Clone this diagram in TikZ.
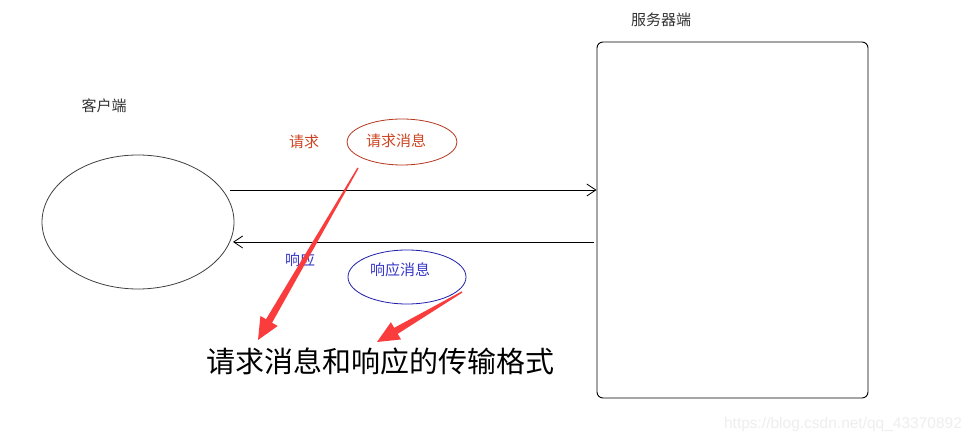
\documentclass[tikz,border=0pt]{standalone}
\usepackage{fontspec}
\setmainfont{Noto Sans CJK SC}
\newfontfamily\wmfont{Liberation Sans}
\usetikzlibrary{calc,arrows.meta}
\definecolor{reqtext}{RGB}{205,70,35}
\definecolor{reqline}{RGB}{180,55,30}
\definecolor{resptext}{RGB}{55,55,200}
\definecolor{respline}{RGB}{30,30,170}
\definecolor{arrowred}{RGB}{250,60,60}
\definecolor{wmgray}{RGB}{238,238,238}
\newcommand\bigredarrow[3]{%
  \coordinate (#1h) at ($(#3)!22pt!(#2)$);
  \fill[arrowred] ($(#2)!0.7pt!90:(#3)$) -- ($(#1h)!3.5pt!90:(#3)$) -- ($(#1h)!10pt!90:(#3)$)
    -- (#3) -- ($(#1h)!10pt!-90:(#3)$) -- ($(#1h)!3.5pt!-90:(#3)$) -- ($(#2)!0.7pt!-90:(#3)$) -- cycle;
}
\begin{document}
\begin{tikzpicture}[x=1pt,y=-1pt,
  lbl/.style={font=\fontsize{15pt}{17pt}\selectfont, inner sep=0pt},
  flow/.style={draw=black, line width=0.8pt, -{Straight Barb[length=9pt,width=12pt,line width=0.8pt]}}
]
\useasboundingbox[fill=white] (0,0) rectangle (975,443);
% client
\draw[draw=black!75, line width=0.8pt] (138,222) ellipse [x radius=96, y radius=67];
\node[draw=none, minimum width=192pt, minimum height=134pt, inner sep=0pt] (client) at (138,222) {};
\node[lbl, text=black!80] (clientlbl) at (104,106) {客户端};
% server
\node[draw=black, line width=0.9pt, rounded corners=6pt, minimum width=271pt, minimum height=356pt, inner sep=0pt] (server) at (732.5,220) {};
\node[lbl, text=black!80] (serverlbl) at (661,20) {服务器端};
% flows
\coordinate (reqstart) at (230,190);
\draw[flow] (reqstart) -- (reqstart -| server.west);
\coordinate (respstart) at (594,242);
\draw[flow] (respstart) -- (233,242);
% labels
\node[lbl, text=reqtext] (reqlbl) at (304,142) {请求};
\node[lbl, text=resptext] (resplbl) at (300,260) {响应};
% message ovals
\draw[reqline, line width=0.8pt] (402,142) ellipse [x radius=55, y radius=23];
\node[inner sep=0pt, minimum width=110pt, minimum height=46pt] (reqmsg) at (402,142) {};
\node[lbl, text=reqtext] (reqmsgtxt) at (396,141) {请求消息};
\draw[respline, line width=0.8pt] (407,277) ellipse [x radius=59, y radius=27];
\node[inner sep=0pt, minimum width=118pt, minimum height=54pt] (respmsg) at (407,277) {};
\node[lbl, text=resptext] (respmsgtxt) at (400,270) {响应消息};
% title
\node[inner sep=0pt, font=\fontsize{29pt}{32pt}\selectfont] (title) at (380,361) {请求消息和响应的传输格式};
% red arrows
\coordinate (a1t) at (358,168);
\coordinate (a1p) at (258,340);
\bigredarrow{a1}{a1t}{a1p}
\coordinate (a2t) at (462,292);
\coordinate (a2p) at (377,342);
\bigredarrow{a2}{a2t}{a2p}
% watermark
\node[inner sep=0pt, text=wmgray, font=\wmfont\fontsize{15.5pt}{17pt}\selectfont] (wm) at (843,424) {https://blog.csdn.net/qq\_43370892};
\end{tikzpicture}
\end{document}
